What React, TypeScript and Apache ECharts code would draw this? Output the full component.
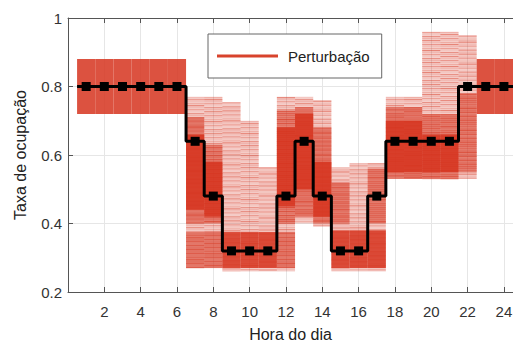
import React, { useEffect, useRef } from "react";
import * as echarts from "echarts";

// Base occupancy profile (black step line), hours 1..24
const hours: number[] = [1, 2, 3, 4, 5, 6, 7, 8, 9, 10, 11, 12, 13, 14, 15, 16, 17, 18, 19, 20, 21, 22, 23, 24];
const baseRate: number[] = [0.8, 0.8, 0.8, 0.8, 0.8, 0.8, 0.64, 0.48, 0.32, 0.32, 0.32, 0.48, 0.64, 0.48, 0.32, 0.32, 0.48, 0.64, 0.64, 0.64, 0.64, 0.8, 0.8, 0.8];

// Perturbation bands: hour, low, high, density level (1 sparse, 2 medium, 3 dense)
const pertHour: number[] = [
  1, 2, 3, 4, 5, 6,
  7, 7, 7, 7,
  8, 8, 8, 8,
  9, 9,
  10, 10,
  11, 11,
  12, 12, 12, 12,
  13, 13, 13,
  14, 14, 14,
  15, 15, 15,
  16, 16,
  17, 17, 17,
  18, 18, 18,
  19, 19, 19,
  20, 20, 20,
  21, 21, 21,
  22, 22,
  23, 24,
];
const pertLow: number[] = [
  0.72, 0.72, 0.72, 0.72, 0.72, 0.72,
  0.27, 0.27, 0.40, 0.44,
  0.27, 0.27, 0.40, 0.42,
  0.26, 0.27,
  0.26, 0.27,
  0.26, 0.27,
  0.26, 0.27, 0.40, 0.45,
  0.40, 0.42, 0.50,
  0.39, 0.40, 0.42,
  0.26, 0.40, 0.27,
  0.26, 0.27,
  0.26, 0.40, 0.27,
  0.53, 0.53, 0.55,
  0.53, 0.53, 0.55,
  0.53, 0.53, 0.55,
  0.53, 0.53, 0.55,
  0.53, 0.55,
  0.72, 0.72,
];
const pertHigh: number[] = [
  0.88, 0.88, 0.88, 0.88, 0.88, 0.88,
  0.77, 0.375, 0.71, 0.66,
  0.77, 0.375, 0.63, 0.58,
  0.755, 0.375,
  0.70, 0.375,
  0.565, 0.375,
  0.77, 0.375, 0.73, 0.68,
  0.77, 0.74, 0.72,
  0.76, 0.68, 0.58,
  0.565, 0.52, 0.38,
  0.577, 0.38,
  0.577, 0.56, 0.38,
  0.77, 0.74, 0.70,
  0.77, 0.74, 0.70,
  0.96, 0.72, 0.66,
  0.96, 0.72, 0.66,
  0.95, 0.78,
  0.88, 0.88,
];
const pertLevel: number[] = [
  3, 3, 3, 3, 3, 3,
  1, 2, 2, 3,
  1, 2, 2, 3,
  1, 3,
  1, 3,
  1, 3,
  1, 2, 2, 3,
  1, 2, 3,
  1, 2, 3,
  1, 2, 3,
  1, 3,
  1, 2, 3,
  1, 2, 3,
  1, 2, 3,
  1, 2, 3,
  1, 2, 3,
  1, 2,
  3, 3,
];

const xTicks: number[] = [2, 4, 6, 8, 10, 12, 14, 16, 18, 20, 22, 24];
const yTicks: number[] = [0.2, 0.4, 0.6, 0.8, 1];

const RED = "214,52,30";
const STRIPES = [0.45, 0.15, 0.3, 0.6, 0.2, 0.4, 0.08, 0.5, 0.25, 0.55, 0.18];

export default function App() {
  const ref = useRef<HTMLDivElement>(null);
  useEffect(() => {
    if (!ref.current) return;
    const chart = echarts.init(ref.current, null, { renderer: "svg" });

    const pertData = pertHour.map((h, i) => [h, pertLow[i], pertHigh[i], pertLevel[i]]);
    pertData.sort((a, b) => a[3] - b[3]);

    const lineData: any[] = [
      { value: [hours[0] - 0.5, baseRate[0]], symbol: "none" },
      ...hours.map((h, i) => ({ value: [h, baseRate[i]] })),
      { value: [hours[hours.length - 1] + 0.5, baseRate[baseRate.length - 1]], symbol: "none" },
    ];

    const axisColor = "#555";
    const font = "'Liberation Sans', Arial, sans-serif";

    chart.setOption({
      animation: false,
      grid: { left: 68, top: 18, right: 0, bottom: 51, outerBoundsMode: "none", containLabel: false },
      legend: {
        left: 208,
        top: 34,
        backgroundColor: "#fff",
        borderColor: "#666",
        borderWidth: 1,
        borderRadius: 0,
        padding: [14, 12, 14, 9],
        itemWidth: 61,
        itemHeight: 3,
        data: [{ name: "Perturbação", icon: "rect", itemStyle: { color: "#d8432c" } }],
        textStyle: { fontSize: 15, color: "#222", fontFamily: font, lineHeight: 16, padding: [0, 0, 0, 5] },
      },
      xAxis: [
        {
          type: "value",
          min: 0,
          max: 24.5,
          interval: 2,
          position: "bottom",
          name: "Hora do dia",
          nameLocation: "middle",
          nameGap: 34,
          nameTextStyle: { fontSize: 16, color: "#222", fontFamily: font },
          axisLine: { show: true, lineStyle: { color: axisColor } },
          axisTick: { show: true, inside: true, length: 5, lineStyle: { color: axisColor } },
          axisLabel: {
            fontSize: 15,
            color: "#333",
            fontFamily: font,
            margin: 12,
            showMaxLabel: false,
            formatter: (v: number) => (xTicks.includes(v) ? String(v) : ""),
          },
          splitLine: { show: true, lineStyle: { color: "#e6e6e6" } },
        },
        {
          type: "value",
          min: 0,
          max: 24.5,
          interval: 2,
          position: "top",
          axisLine: { show: true, lineStyle: { color: axisColor } },
          axisTick: { show: true, inside: true, length: 5, lineStyle: { color: axisColor } },
          axisLabel: { show: false },
          splitLine: { show: false },
        },
      ],
      yAxis: {
        type: "value",
        min: 0.2,
        max: 1,
        interval: 0.2,
        name: "Taxa de ocupação",
        nameLocation: "middle",
        nameGap: 40,
        nameTextStyle: { fontSize: 16, color: "#222", fontFamily: font },
        axisLine: { show: true, lineStyle: { color: axisColor } },
        axisTick: { show: true, inside: true, length: 5, lineStyle: { color: axisColor } },
        axisLabel: {
          fontSize: 15,
          color: "#333",
          fontFamily: font,
          margin: 6,
          formatter: (v: number) => {
            const t = yTicks.find((k) => Math.abs(k - v) < 1e-6);
            if (t === undefined) return "";
            return t === 1 ? "1" : t.toFixed(1);
          },
        },
        splitLine: { show: true, lineStyle: { color: "#e6e6e6" } },
      },
      series: [
        {
          name: "Perturbação",
          type: "custom",
          xAxisIndex: 0,
          data: pertData,
          z: 2,
          renderItem: (params: any, api: any) => {
            const h = api.value(0);
            const lo = api.value(1);
            const hi = api.value(2);
            const lvl = api.value(3);
            const p1 = api.coord([h - 0.5, hi]);
            const p2 = api.coord([h + 0.5, lo]);
            const x = p1[0];
            const y = p1[1];
            const w = p2[0] - p1[0];
            const hh = p2[1] - p1[1];
            const alpha = lvl === 3 ? 0.85 : lvl === 2 ? 0.5 : 0.22;
            const children: any[] = [
              { type: "rect", shape: { x, y, width: w, height: hh }, style: { fill: `rgba(${RED},${alpha})` } },
            ];
            if (lvl < 3) {
              let k = Math.round(h * 3);
              for (let yy = y + 1; yy < y + hh; yy += 2) {
                const a = STRIPES[k % STRIPES.length] * (lvl === 1 ? 1 : 0.7);
                k++;
                children.push({
                  type: "line",
                  shape: { x1: x, y1: yy, x2: x + w, y2: yy },
                  style: { stroke: `rgba(${RED},${a})`, lineWidth: 1 },
                });
              }
            }
            return { type: "group", children };
          },
        },
        {
          name: "Base",
          type: "line",
          step: "middle",
          data: lineData,
          z: 5,
          symbol: "rect",
          symbolSize: 9,
          itemStyle: { color: "#000" },
          lineStyle: { color: "#000", width: 3 },
        },
      ],
    });
    return () => chart.dispose();
  }, []);

  return (
    <div
      ref={ref}
      style={{ position: "fixed", left: 0, top: 0, width: 513, height: 343, background: "#fff" }}
    />
  );
}
